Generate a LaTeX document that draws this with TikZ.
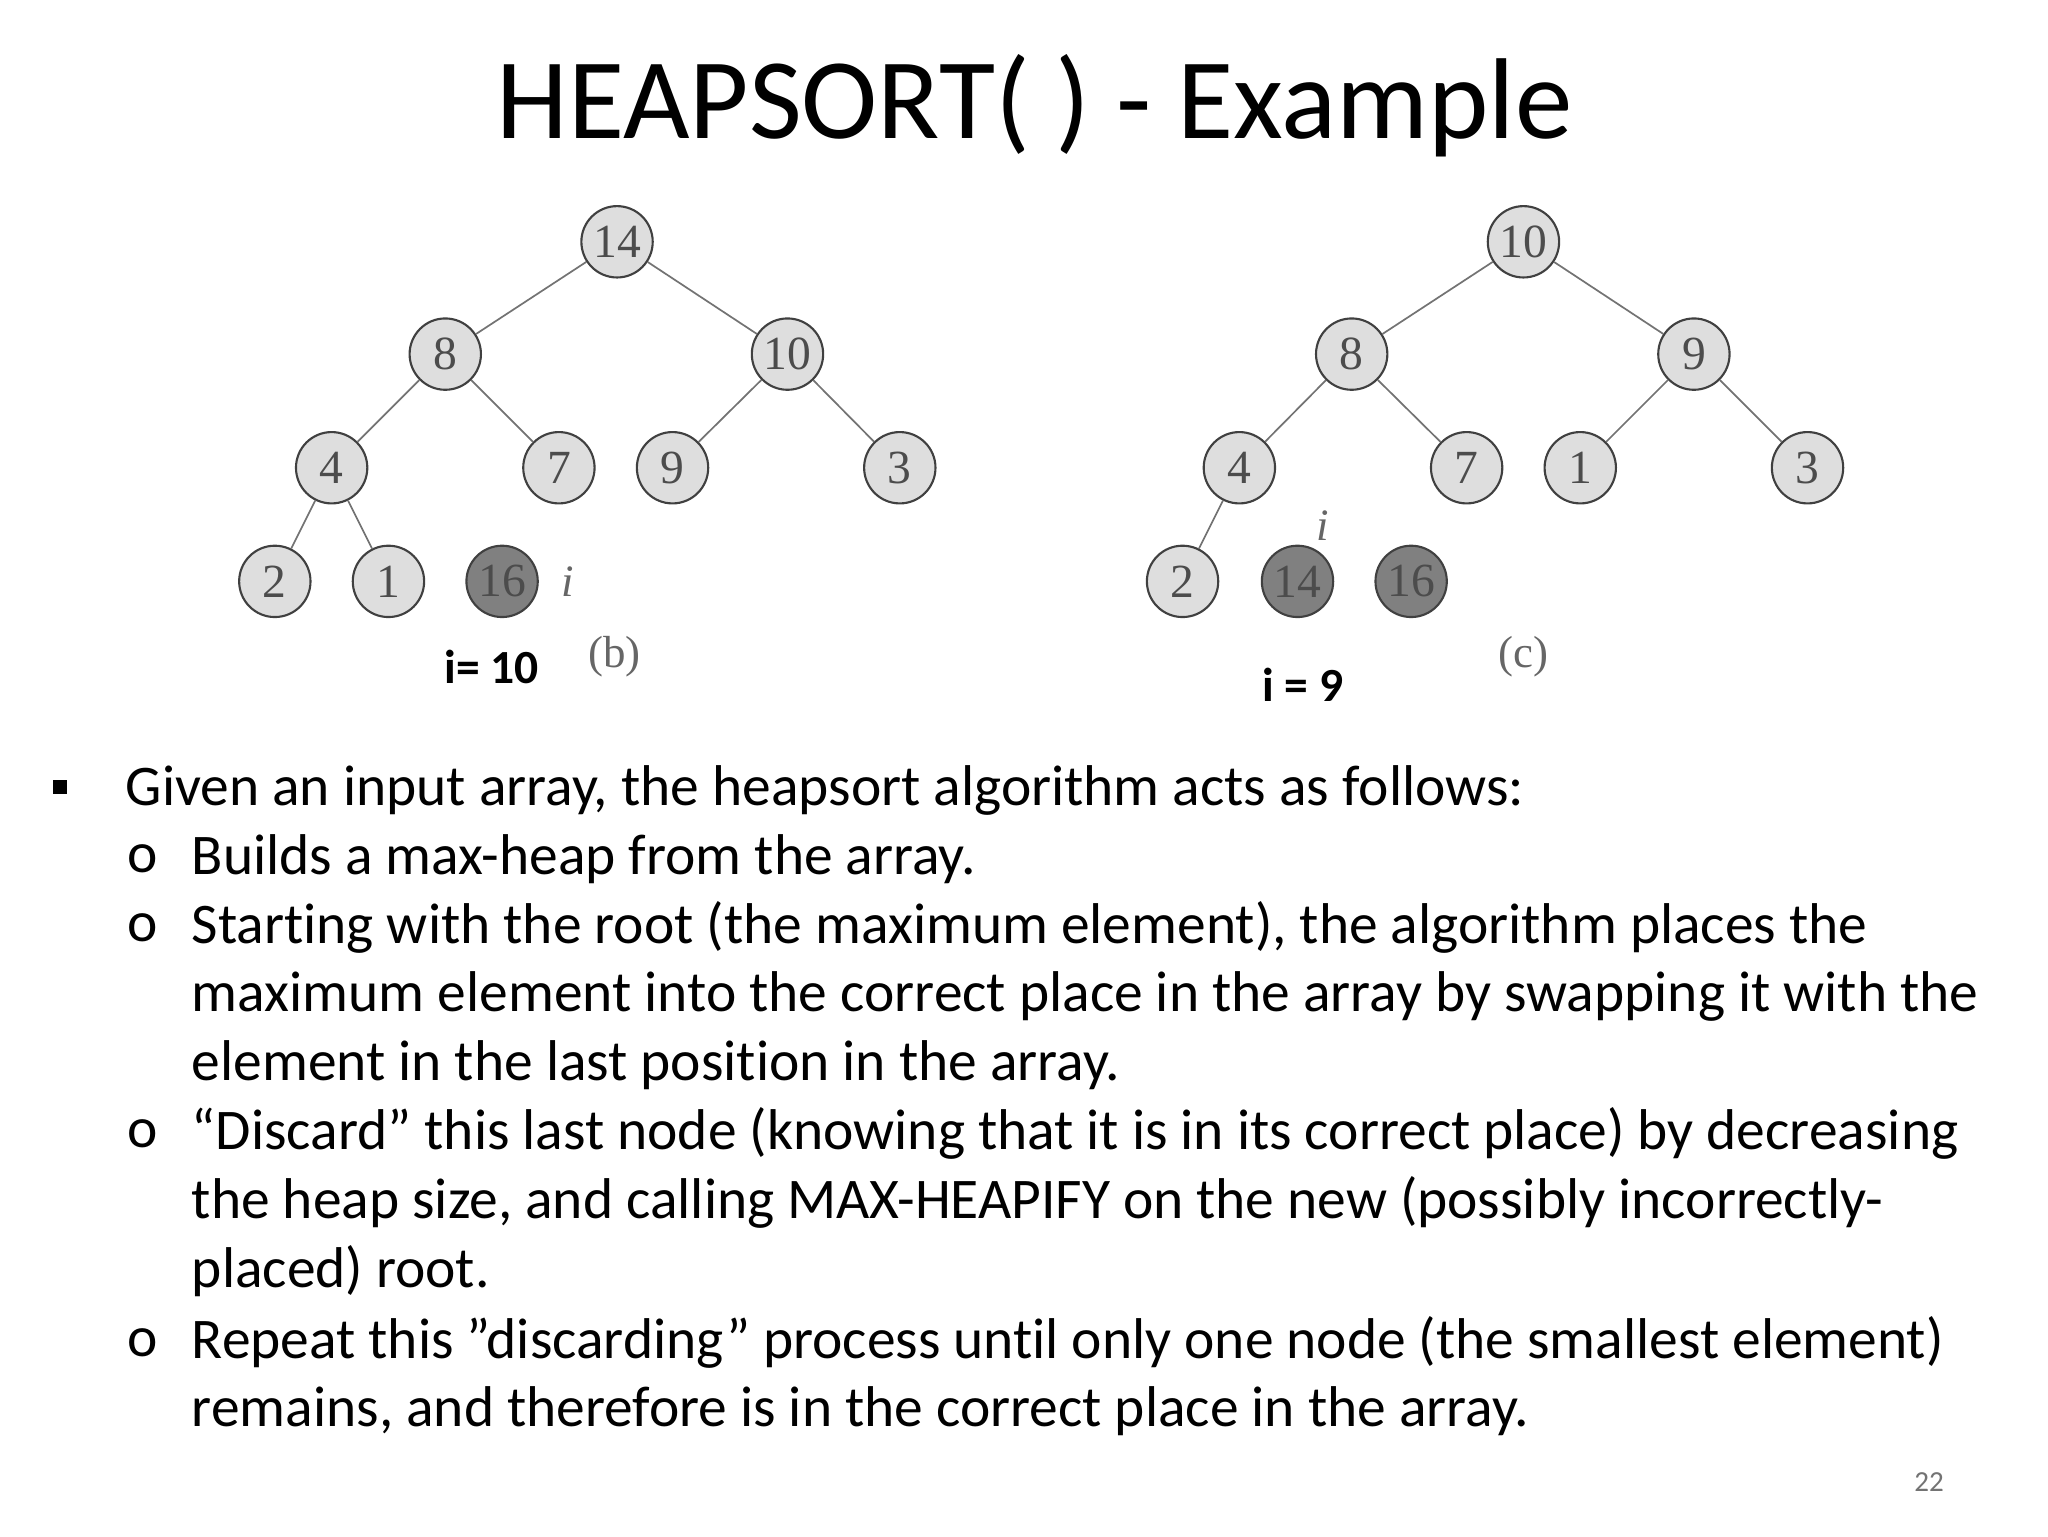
\documentclass[tikz,border=0pt]{standalone}
\usepackage{fontspec}
\setmainfont[Ligatures={NoCommon}]{Carlito}
\newfontfamily\treefont{Liberation Serif}
\begin{document}
\begin{tikzpicture}[x=1pt,y=-1pt,
  hn/.style={circle,draw=black!75,line width=1.6pt,fill=black!13,minimum size=54pt,inner sep=0pt,font=\treefont\fontsize{36}{36}\selectfont,text=black!70},
  dn/.style={hn,fill=black!50},
  ed/.style={draw=black!55,line width=1.3pt},
  tx/.style={anchor=west,inner sep=0pt,font=\fontsize{43.5}{43.5}\selectfont},
  lb/.style={font=\treefont\fontsize{34}{34}\selectfont,text=black!60}]
\useasboundingbox (0,0) rectangle (1550,1162.5);
\node[font=\fontsize{87}{87}\selectfont] (title) at (783,80) {HEAPSORT( ) - Example};
% tree b
\node[hn] (b14) at (467,183) {14};
\node[hn] (b8) at (337,268) {8};
\node[hn] (b10) at (596,268) {10};
\node[hn] (b4) at (251,354) {4};
\node[hn] (b7) at (423,354) {7};
\node[hn] (b9) at (509,354) {9};
\node[hn] (b3) at (681,354) {3};
\node[hn] (b2) at (208,440) {2};
\node[hn] (b1) at (294,440) {1};
\node[dn] (b16) at (380,440) {16};
\foreach \a/\b in {b14/b8,b14/b10,b8/b4,b8/b7,b10/b9,b10/b3,b4/b2,b4/b1} \draw[ed] (\a)--(\b);
\node[lb,font=\treefont\itshape\fontsize{34}{34}\selectfont] (bi) at (430,440) {i};
\node[lb] (bl) at (465,497) {(b)};
\node[font=\bfseries\fontsize{36}{36}\selectfont] (bi10) at (372,505) {i= 10};
% tree c
\node[hn] (c10) at (1153,183) {10};
\node[hn] (c8) at (1023,268) {8};
\node[hn] (c9) at (1282,268) {9};
\node[hn] (c4) at (938,354) {4};
\node[hn] (c7) at (1110,354) {7};
\node[hn] (c1) at (1196,354) {1};
\node[hn] (c3) at (1368,354) {3};
\node[hn] (c2) at (895,440) {2};
\node[dn] (c14) at (982,440) {14};
\node[dn] (c16) at (1068,440) {16};
\foreach \a/\b in {c10/c8,c10/c9,c8/c4,c8/c7,c9/c1,c9/c3,c4/c2} \draw[ed] (\a)--(\b);
\node[lb,font=\treefont\itshape\fontsize{34}{34}\selectfont] (ci) at (1001,398) {i};
\node[lb] (cl) at (1153,497) {(c)};
\node[font=\bfseries\fontsize{36}{36}\selectfont] (ci9) at (986,518) {i = 9};
% text
\fill (40,590) rectangle (51,601);
\node[tx] (t1) at (95,598) {Given an input array, the heapsort algorithm acts as follows:};
\foreach \yy in {650,702,858,1016} \node[tx] at (96,\yy) {o};
\node[tx] (t2) at (145,650) {Builds a max-heap from the array.};
\node[tx] (t3) at (145,702) {Starting with the root (the maximum element), the algorithm places the};
\node[tx] (t4) at (145,754) {maximum element into the correct place in the array by swapping it with the};
\node[tx] (t5) at (145,806) {element in the last position in the array.};
\node[tx] (t6) at (145,858) {“Discard” this last node (knowing that it is in its correct place) by decreasing};
\node[tx] (t7) at (145,910) {the heap size, and calling MAX-HEAPIFY on the new (possibly incorrectly-};
\node[tx] (t8) at (145,962) {placed) root.};
\node[tx] (t9) at (145,1016) {Repeat this \char34discarding\char34\ process until only one node (the smallest element)};
\node[tx] (t10) at (145,1068) {remains, and therefore is in the correct place in the array.};
\node[font=\fontsize{22}{22}\selectfont,text=black!55] (pg) at (1460,1122) {22};
\end{tikzpicture}
\end{document}
